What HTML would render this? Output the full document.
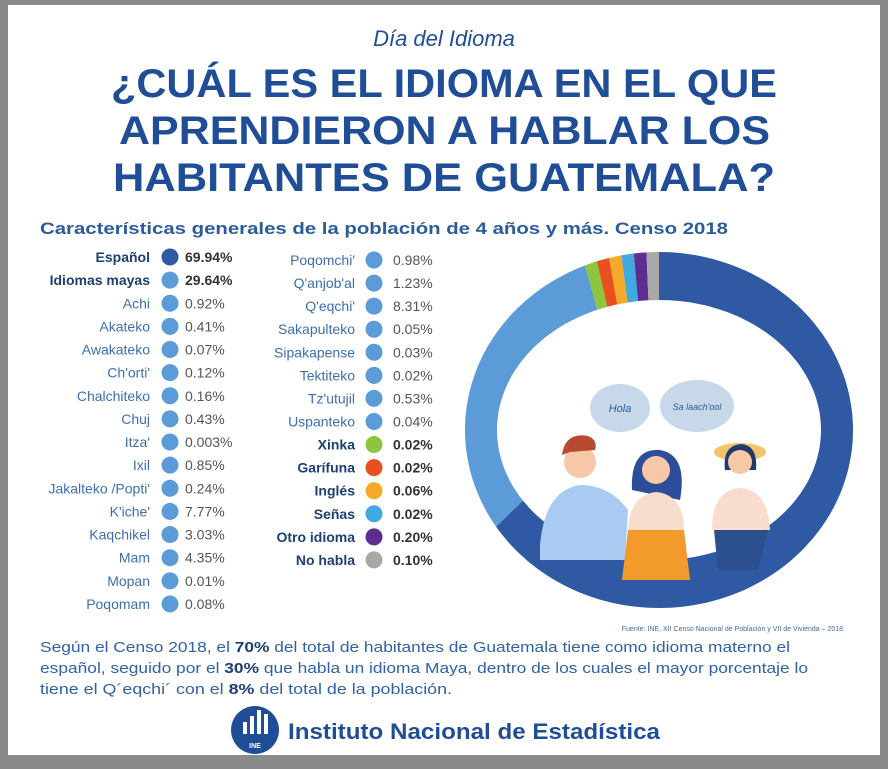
<!DOCTYPE html>
<html><head><meta charset="utf-8"><style>
html,body{margin:0;padding:0;background:#7a7a7a;}
svg{display:block}
text{font-family:"Liberation Sans",sans-serif}
</style></head><body>
<svg id="s" width="888" height="769" viewBox="0 0 888 769" xmlns="http://www.w3.org/2000/svg">
<rect x="0" y="0" width="888" height="769" fill="#8a8a8a"/>
<rect x="8" y="5" width="872" height="750" fill="#ffffff"/>
<text x="444" y="46" text-anchor="middle" font-size="22" font-style="italic" fill="#1f4e96">Día del Idioma</text>
<g font-weight="bold" fill="#1f4e96" font-size="40">
<text x="111" y="97" textLength="666" lengthAdjust="spacingAndGlyphs">¿CUÁL ES EL IDIOMA EN EL QUE</text>
<text x="119" y="144" textLength="651" lengthAdjust="spacingAndGlyphs">APRENDIERON A HABLAR LOS</text>
<text x="113" y="191" textLength="662" lengthAdjust="spacingAndGlyphs">HABITANTES DE GUATEMALA?</text>
</g>
<text x="40" y="234" font-size="17" font-weight="bold" fill="#2a5c9c" textLength="688" lengthAdjust="spacingAndGlyphs">Características generales de la población de 4 años y más. Censo 2018</text>
<g id="legend"></g>
<g id="donut"></g>
<g>
<ellipse cx="620" cy="408" rx="30" ry="24" fill="#c6d8ea"/>
<text x="620" y="412" text-anchor="middle" font-size="11" font-style="italic" fill="#2a5c9c">Hola</text>
<ellipse cx="697" cy="406" rx="37" ry="26" fill="#c6d8ea"/>
<text x="697" y="410" text-anchor="middle" font-size="9" font-style="italic" fill="#2a5c9c">Sa laach'ool</text>
<path d="M540 545 Q545 490 580 485 Q610 485 628 510 L625 560 L540 560Z" fill="#a9cbf2"/>
<circle cx="580" cy="462" r="16" fill="#f6c8a8"/>
<path d="M562 455 Q565 432 588 436 Q598 440 595 450 L570 452Z" fill="#b84a32"/>
<path d="M632 490 Q630 448 660 450 Q688 455 680 500Z" fill="#2b4d9a"/>
<circle cx="656" cy="470" r="14" fill="#f6c8a8"/>
<path d="M628 530 Q630 495 656 492 Q684 495 684 530Z" fill="#f8dccc"/>
<path d="M628 530 L684 530 L690 580 L622 580Z" fill="#f39a2c"/>
<ellipse cx="740" cy="452" rx="26" ry="9" fill="#f2c46c"/>
<path d="M725 470 Q722 445 742 444 Q758 446 756 470Z" fill="#1f3a6f"/>
<circle cx="740" cy="462" r="12" fill="#f6c8a8"/>
<path d="M712 530 Q712 490 740 488 Q768 490 770 530Z" fill="#f8dccc"/>
<path d="M714 530 L768 530 L758 570 L718 570Z" fill="#2c4f8e"/>
</g>
<text x="845" y="631" text-anchor="end" font-size="7" fill="#4a6a9a">Fuente: INE, XII Censo Nacional de Población y VII de Vivienda – 2018.</text>
<g font-size="15" fill="#2f62a8">
<text x="40" y="652" textLength="750" lengthAdjust="spacingAndGlyphs">Según el Censo 2018, el <tspan font-weight="bold" fill="#1d3f73">70%</tspan> del total de habitantes de Guatemala tiene como idioma materno el</text>
<text x="40" y="673" textLength="768" lengthAdjust="spacingAndGlyphs">español, seguido por el <tspan font-weight="bold" fill="#1d3f73">30%</tspan> que habla un idioma Maya, dentro de los cuales el mayor porcentaje lo</text>
<text x="40" y="694" textLength="412" lengthAdjust="spacingAndGlyphs">tiene el Q´eqchi´ con el <tspan font-weight="bold" fill="#1d3f73">8%</tspan> del total de la población.</text>
</g>
<g>
<circle cx="255" cy="730" r="24" fill="#1f4e96"/>
<rect x="243" y="722" width="4" height="12" fill="#fff"/><rect x="250" y="716" width="4" height="18" fill="#fff"/><rect x="257" y="710" width="4" height="24" fill="#fff"/><rect x="264" y="714" width="4" height="20" fill="#fff"/>
<text x="255" y="748" text-anchor="middle" font-size="7" font-weight="bold" fill="#fff">INE</text>
<text x="288" y="739" font-size="22" font-weight="bold" fill="#1f4e96" textLength="372" lengthAdjust="spacingAndGlyphs">Instituto Nacional de Estadística</text>
</g>
</svg>
<script>
const col1Names=["Español","Idiomas mayas","Achi","Akateko","Awakateko","Ch'orti'","Chalchiteko","Chuj","Itza'","Ixil","Jakalteko /Popti'","K'iche'","Kaqchikel","Mam","Mopan","Poqomam"];
const col1Values=["69.94%","29.64%","0.92%","0.41%","0.07%","0.12%","0.16%","0.43%","0.003%","0.85%","0.24%","7.77%","3.03%","4.35%","0.01%","0.08%"];
const col2Names=["Poqomchi'","Q'anjob'al","Q'eqchi'","Sakapulteko","Sipakapense","Tektiteko","Tz'utujil","Uspanteko","Xinka","Garífuna","Inglés","Señas","Otro idioma","No habla"];
const col2Values=["0.98%","1.23%","8.31%","0.05%","0.03%","0.02%","0.53%","0.04%","0.02%","0.02%","0.06%","0.02%","0.20%","0.10%"];
const pieLabels=["Español","Idiomas mayas","Xinka","Garífuna","Inglés","Señas","Otro idioma","No habla"];
const pieValues=[69.94,29.64,0.02,0.02,0.06,0.02,0.20,0.10];
const pieColors=["#2f5aa3","#5b9bd8","#8cc63f","#e8501e","#f4a928","#3fa9e0","#5e2d91","#a8a8a8"];
const NS="http://www.w3.org/2000/svg";
const legend=document.getElementById('legend');
function colorFor(name){const i=pieLabels.indexOf(name);return i>=0?pieColors[i]:"#5b9bd8";}
function addRow(name,val,y,labelX,dotX,valX,bold){
  const t=document.createElementNS(NS,'text');
  
  
  t.setAttribute('x',labelX);t.setAttribute('y',y+5);t.setAttribute('text-anchor','end');
  t.setAttribute('font-size','14');t.setAttribute('fill',bold?'#1d3f73':'#3d6fae');
  if(bold)t.setAttribute('font-weight','bold');
  t.textContent=name;legend.appendChild(t);
  const c=document.createElementNS(NS,'circle');
  
  
  c.setAttribute('cx',dotX);c.setAttribute('cy',y);c.setAttribute('r','8.5');c.setAttribute('fill',colorFor(name));
  legend.appendChild(c);
  const v=document.createElementNS(NS,'text');
  
  
  v.setAttribute('x',valX);v.setAttribute('y',y+5);v.setAttribute('font-size','14');
  v.setAttribute('fill',bold?'#333':'#555');if(bold)v.setAttribute('font-weight','bold');
  v.textContent=val;legend.appendChild(v);
}
col1Names.forEach((n,i)=>addRow(n,col1Values[i],257+i*23.13,150,170,185,i<2));
col2Names.forEach((n,i)=>addRow(n,col2Values[i],260+i*23.07,355,374,393,i>=8));
const cx=659,cy=430,rxO=194,ryO=178,rxI=162,ryI=130;
const minShare=1.1;
const disp=pieValues.map(v=>Math.max(v,minShare));
const tot=disp.reduce((a,b)=>a+b,0);
function pt(rx,ry,f){const a=f*2*Math.PI;return [cx+rx*Math.sin(a),cy-ry*Math.cos(a)];}
const donut=document.getElementById('donut');
let acc=0;
disp.forEach((d,i)=>{
  const f0=acc/tot,f1=(acc+d)/tot;acc+=d;
  const n=Math.max(4,Math.ceil((f1-f0)*200));
  let pts=[];
  for(let k=0;k<=n;k++)pts.push(pt(rxO,ryO,f0+(f1-f0)*k/n));
  for(let k=n;k>=0;k--)pts.push(pt(rxI,ryI,f0+(f1-f0)*k/n));
  const p=document.createElementNS(NS,'polygon');
  
  
  p.setAttribute('points',pts.map(q=>q[0].toFixed(1)+','+q[1].toFixed(1)).join(' '));
  p.setAttribute('fill',pieColors[i]);
  donut.appendChild(p);
});
</script>
</body></html>
